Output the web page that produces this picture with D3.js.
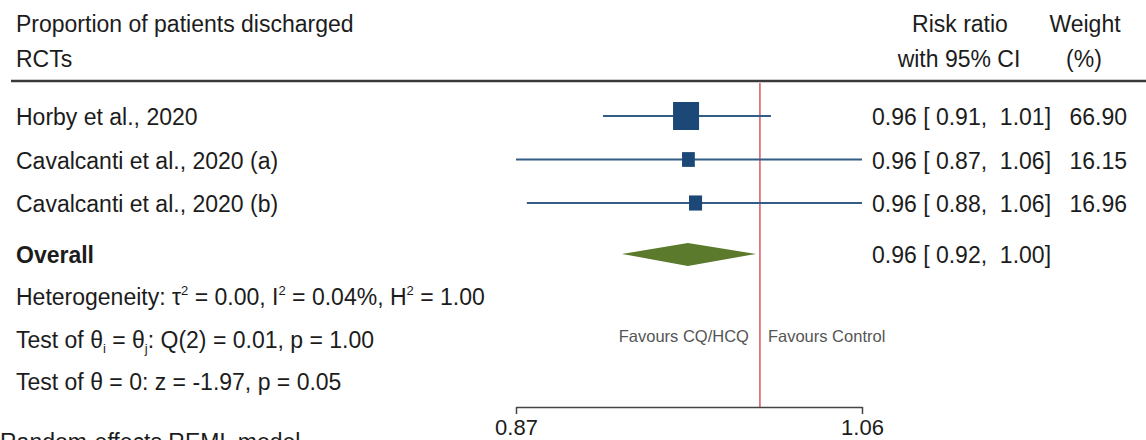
<!DOCTYPE html>
<html>
<head>
<meta charset="utf-8">
<script src="https://cdn.jsdelivr.net/npm/d3@7"></script>
<style>
  body { margin: 0; background: #fff; }
  svg { display: block; font-family: "Liberation Sans", Arial, sans-serif; }
  text { fill: #1c1c1c; white-space: pre; }
</style>
</head>
<body>
<div id="figure"></div>
<script>
// study data (risk ratios)
var studies = ["Horby et al., 2020", "Cavalcanti et al., 2020 (a)", "Cavalcanti et al., 2020 (b)"];
var estimates = [0.9587, 0.9600, 0.9639];
var lower = [0.9143, 0.8700, 0.8754];
var upper = [1.0063, 1.0600, 1.0600];
var weights = [66.90, 16.15, 16.96];

var overallEst = 0.9597, overallLo = 0.9242, overallHi = 0.9978;
var axisTicks = [0.87, 1.06];

var width = 1146, height = 440;
var fontSize = 23;

var svg = d3.select("#figure").append("svg")
  .attr("width", width)
  .attr("height", height);

var x = d3.scaleLog()
  .domain([0.87, 1.06])
  .range([516, 862]);

// row centres
var y = d3.scaleLinear()
  .domain([0, 1])
  .range([116, 159.5]);

var size = d3.scaleSqrt()
  .domain([0, 66.90])
  .range([0, 26]);

var fmt = d3.format(".2f");

function txt(str, xx, yy, anchor) {
  return svg.append("text")
    .attr("x", xx)
    .attr("y", yy)
    .attr("text-anchor", anchor || "start")
    .style("font-size", fontSize + "px")
    .text(str);
}

// headers
txt("Proportion of patients discharged", 16, 32);
txt("RCTs", 16, 67);
txt("Risk ratio", 960, 32, "middle");
txt("with 95% CI", 959, 67, "middle");
txt("Weight", 1085, 32, "middle");
txt("(%)", 1084, 67, "middle");

svg.append("line")
  .attr("x1", 11).attr("x2", width)
  .attr("y1", 81).attr("y2", 81)
  .attr("stroke", "#3a3a3a")
  .attr("stroke-width", 2.5);

// null line
svg.append("line")
  .attr("x1", x(1)).attr("x2", x(1))
  .attr("y1", 83).attr("y2", 407)
  .attr("stroke", "#d2404c")
  .attr("stroke-width", 1.3);

// study rows
var rows = svg.selectAll("g.study")
  .data(studies)
  .enter().append("g")
  .attr("class", "study");

rows.append("line")
  .attr("x1", function(d, i) { return x(lower[i]); })
  .attr("x2", function(d, i) { return x(upper[i]); })
  .attr("y1", function(d, i) { return y(i); })
  .attr("y2", function(d, i) { return y(i); })
  .attr("stroke", "#345d86")
  .attr("stroke-width", 2);

rows.append("rect")
  .attr("x", function(d, i) { return x(estimates[i]) - size(weights[i]) / 2; })
  .attr("y", function(d, i) { return y(i) - size(weights[i]) / 2 - 1; })
  .attr("width", function(d, i) { return size(weights[i]); })
  .attr("height", function(d, i) { return size(weights[i]) + 2; })
  .attr("fill", "#1b4876");

rows.append("text")
  .attr("x", 16)
  .attr("y", function(d, i) { return y(i) + 9; })
  .style("font-size", fontSize + "px")
  .text(function(d) { return d; });

rows.append("text")
  .attr("x", 872)
  .attr("y", function(d, i) { return y(i) + 9; })
  .style("font-size", fontSize + "px")
  .text(function(d, i) { return fmt(estimates[i]) + " [ " + fmt(lower[i]) + ",  " + fmt(upper[i]) + "]"; });

rows.append("text")
  .attr("x", 1127)
  .attr("y", function(d, i) { return y(i) + 9; })
  .attr("text-anchor", "end")
  .style("font-size", fontSize + "px")
  .text(function(d, i) { return fmt(weights[i]); });

// overall diamond
var oy = y(3.17);
svg.append("path")
  .attr("d", "M" + x(overallLo) + "," + oy +
             "L" + x(overallEst) + "," + (oy - 11) +
             "L" + x(overallHi) + "," + oy +
             "L" + x(overallEst) + "," + (oy + 12) + "Z")
  .attr("fill", "#5b7a2b");

txt("Overall", 16, oy + 9).style("font-weight", "bold");
txt(fmt(overallEst) + " [ " + fmt(overallLo) + ",  " + fmt(overallHi) + "]", 872, oy + 9);

// heterogeneity lines
var het = txt("", 16, 305);
het.append("tspan").text("Heterogeneity: τ");
het.append("tspan").attr("dy", -10).style("font-size", "13px").text("2");
het.append("tspan").attr("dy", 10).text(" = 0.00, I");
het.append("tspan").attr("dy", -10).style("font-size", "13px").text("2");
het.append("tspan").attr("dy", 10).text(" = 0.04%, H");
het.append("tspan").attr("dy", -10).style("font-size", "13px").text("2");
het.append("tspan").attr("dy", 10).text(" = 1.00");

var tq = txt("", 16, 348);
tq.append("tspan").text("Test of θ");
tq.append("tspan").attr("dy", 5).style("font-size", "13px").text("i");
tq.append("tspan").attr("dy", -5).text(" = θ");
tq.append("tspan").attr("dy", 5).style("font-size", "13px").text("j");
tq.append("tspan").attr("dy", -5).text(": Q(2) = 0.01, p = 1.00");

txt("Test of θ = 0: z = -1.97, p = 0.05", 16, 390);

// favours labels
svg.append("text")
  .attr("x", x(1) - 11).attr("y", 342)
  .attr("text-anchor", "end")
  .style("font-size", "16.5px")
  .style("fill", "#555")
  .text("Favours CQ/HCQ");
svg.append("text")
  .attr("x", x(1) + 8).attr("y", 342)
  .style("font-size", "16.5px")
  .style("fill", "#555")
  .text("Favours Control");

// x axis
var xAxis = d3.axisBottom(x)
  .tickValues(axisTicks)
  .tickFormat(d3.format(".2f"))
  .tickSizeInner(7)
  .tickSizeOuter(0);

var ax = svg.append("g")
  .attr("transform", "translate(0,407)")
  .call(xAxis);
ax.select(".domain").attr("stroke", "#444").attr("stroke-width", 1.5);
ax.selectAll(".tick line").attr("stroke", "#444").attr("stroke-width", 1.5);
ax.selectAll(".tick text")
  .attr("y", 28)
  .attr("dy", 0)
  .style("font-size", "22px")
  .style("font-family", "Liberation Sans, Arial, sans-serif")
  .attr("fill", "#1c1c1c");

// model note, cut off at the bottom edge as in the source figure
txt("Random-effects REML model", 0, 450);
</script>
</body>
</html>
